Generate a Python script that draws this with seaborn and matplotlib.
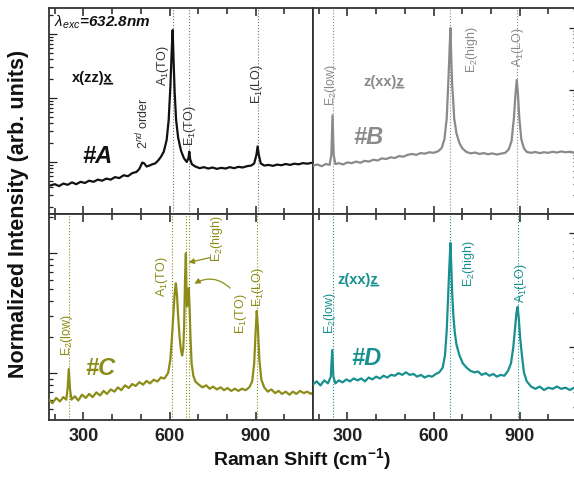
import matplotlib
matplotlib.use("Agg")
import matplotlib.pyplot as plt
import matplotlib.ticker as mticker
import numpy as np
import seaborn as sns

# spectra (Raman shift in cm-1, normalized intensity)
a_shift = [185, 200, 215, 230, 245, 260, 275, 290, 305, 320, 335, 350, 365, 380, 395, 410, 425, 440,
           455, 470, 485, 495, 505, 512, 520, 530, 540, 550, 560, 570, 580, 590, 597, 603, 608, 611,
           614, 618, 623, 630, 640, 650, 660, 666, 669, 672, 678, 690, 705, 720, 735, 750, 765, 780,
           795, 810, 825, 840, 855, 870, 885, 895, 903, 907, 911, 918, 930, 945, 960, 975, 990, 1005,
           1020, 1035, 1050, 1065, 1080, 1095]
a_int = [0.43, 0.45, 0.42, 0.46, 0.44, 0.48, 0.45, 0.49, 0.47, 0.51, 0.49, 0.53, 0.51, 0.55, 0.53, 0.58,
         0.56, 0.62, 0.60, 0.67, 0.70, 0.78, 0.98, 0.95, 0.85, 0.88, 0.92, 0.95, 1.05, 1.2, 1.45, 2.2,
         4.5, 15, 60, 115, 40, 12, 4.5, 2.4, 1.5, 1.15, 1.0, 1.15, 1.45, 1.1, 0.92, 0.85, 0.80, 0.83,
         0.79, 0.82, 0.78, 0.81, 0.79, 0.83, 0.80, 0.84, 0.82, 0.86, 0.88, 0.95, 1.3, 1.75, 1.3, 0.95,
         0.88, 0.90, 0.87, 0.91, 0.89, 0.93, 0.90, 0.94, 0.92, 0.96, 0.94, 0.97]

b_shift = [180, 195, 210, 225, 238, 244, 248, 252, 258, 270, 285, 300, 315, 330, 345, 360, 375, 390,
           405, 420, 435, 450, 465, 480, 495, 510, 525, 540, 555, 570, 585, 600, 615, 628, 638, 646,
           652, 656, 659, 662, 665, 668, 672, 680, 690, 700, 715, 730, 745, 760, 775, 790, 805, 820,
           835, 850, 862, 872, 880, 886, 890, 894, 899, 906, 915, 925, 940, 955, 970, 985, 1000, 1015,
           1030, 1045, 1060, 1075, 1090, 1100]
b_int = [0.60, 0.63, 0.59, 0.64, 0.62, 0.9, 3.9, 0.9, 0.64, 0.66, 0.63, 0.68, 0.66, 0.70, 0.67, 0.72,
         0.70, 0.75, 0.73, 0.79, 0.77, 0.82, 0.80, 0.86, 0.84, 0.90, 0.93, 0.90, 0.96, 0.94, 0.99, 0.97,
         1.02, 1.15, 1.6, 3.5, 15, 45, 100, 30, 12, 7.5, 3.5, 2.0, 1.4, 1.15, 1.0, 0.95, 0.98, 0.93,
         0.96, 0.92, 0.95, 0.91, 0.94, 0.97, 1.1, 1.5, 3.5, 9, 14.5, 9, 3.5, 1.6, 1.15, 1.0, 0.97, 1.0,
         0.96, 0.99, 0.97, 1.01, 0.98, 1.02, 0.99, 1.01, 0.98, 1.0]

c_shift = [180, 192, 205, 218, 230, 240, 245, 249, 253, 258, 270, 282, 295, 308, 320, 332, 345, 358,
           370, 382, 395, 408, 420, 432, 445, 458, 470, 482, 495, 508, 520, 532, 545, 558, 570, 582,
           595, 603, 608, 613, 618, 622, 626, 630, 635, 640, 644, 648, 651, 654, 657, 659, 661, 664,
           667, 670, 673, 677, 683, 690, 702, 715, 728, 740, 752, 765, 778, 790, 802, 815, 828, 840,
           852, 865, 878, 888, 895, 900, 904, 908, 913, 920, 930, 942, 955, 968, 980, 992, 1005, 1018,
           1030, 1042, 1055, 1068, 1080, 1092, 1100]
c_int = [0.60, 0.56, 0.62, 0.58, 0.63, 0.60, 0.75, 1.08, 0.75, 0.60, 0.64, 0.59, 0.66, 0.62, 0.67, 0.63,
         0.69, 0.65, 0.71, 0.67, 0.73, 0.70, 0.76, 0.72, 0.79, 0.75, 0.81, 0.78, 0.84, 0.80, 0.86, 0.82,
         0.88, 0.85, 0.92, 0.90, 1.0, 1.3, 1.9, 3.0, 4.6, 5.6, 4.5, 3.0, 2.0, 1.55, 1.4, 1.6, 2.5, 6,
         10, 5, 3.6, 4.2, 5.1, 3.5, 2.0, 1.2, 0.95, 0.85, 0.80, 0.76, 0.79, 0.74, 0.77, 0.73, 0.76,
         0.72, 0.75, 0.71, 0.74, 0.71, 0.74, 0.72, 0.76, 0.85, 1.2, 2.2, 3.3, 2.4, 1.3, 0.88, 0.76,
         0.70, 0.73, 0.68, 0.71, 0.67, 0.70, 0.66, 0.70, 0.67, 0.71, 0.68, 0.70, 0.67, 0.69]

d_shift = [180, 193, 206, 219, 232, 242, 247, 251, 258, 270, 283, 296, 309, 322, 335, 348, 361, 374,
           387, 400, 413, 426, 439, 452, 465, 478, 491, 504, 517, 530, 543, 556, 569, 582, 595, 608,
           620, 632, 640, 646, 651, 655, 659, 662, 665, 669, 674, 680, 690, 702, 715, 728, 742, 755,
           768, 782, 795, 808, 821, 834, 847, 860, 870, 878, 884, 889, 893, 897, 902, 908, 915, 925,
           940, 955, 970, 985, 1000, 1015, 1030, 1045, 1060, 1075, 1090, 1100]
d_int = [0.47, 0.50, 0.46, 0.51, 0.48, 0.55, 0.94, 0.55, 0.48, 0.51, 0.49, 0.52, 0.50, 0.53, 0.51, 0.53,
         0.50, 0.54, 0.52, 0.55, 0.53, 0.56, 0.54, 0.57, 0.56, 0.59, 0.57, 0.60, 0.57, 0.58, 0.55, 0.57,
         0.54, 0.56, 0.55, 0.58, 0.60, 0.66, 0.85, 1.4, 2.8, 5, 8.2, 5, 3.0, 1.9, 1.35, 1.05, 0.85,
         0.72, 0.66, 0.62, 0.60, 0.61, 0.57, 0.59, 0.56, 0.58, 0.55, 0.57, 0.56, 0.62, 0.72, 1.0, 1.45,
         2.0, 2.25, 1.8, 1.2, 0.85, 0.60, 0.50, 0.45, 0.43, 0.45, 0.42, 0.44, 0.43, 0.45, 0.43, 0.44,
         0.42, 0.44, 0.43]

# phonon mode positions (dotted guides)
a_modes = [611, 669, 908]
b_modes = [250, 659, 892]
c_modes = [250, 610, 656, 668, 906]
d_modes = [250, 659, 893]

x_ticks = [300, 600, 900]

sns.set_style("ticks")
plt.rcParams["font.family"] = ["Liberation Sans", "DejaVu Sans"]
plt.rcParams["mathtext.fontset"] = "custom"
plt.rcParams["mathtext.rm"] = "Liberation Sans"
plt.rcParams["mathtext.it"] = "Liberation Sans:italic"
plt.rcParams["mathtext.bf"] = "Liberation Sans:bold"

BLACK = "#111111"
GRAY = "#8a8a8a"
OLIVE = "#8c8c18"
TEAL = "#17908f"

fig = plt.figure(figsize=(5.74, 4.86), dpi=100)
W = 264 / 574
H = 206 / 486
axA = fig.add_axes([49 / 574, 1 - 214 / 486, W, H])
axB = fig.add_axes([313 / 574, 1 - 214 / 486, W, H])
axC = fig.add_axes([49 / 574, 1 - 420 / 486, W, H])
axD = fig.add_axes([313 / 574, 1 - 420 / 486, W, H])

panels = [
    (axA, a_shift, a_int, a_modes, BLACK, "#777777", (0.154, 254), "left"),
    (axB, b_shift, b_int, b_modes, GRAY, GRAY, (0.1, 210), "right"),
    (axC, c_shift, c_int, c_modes, OLIVE, OLIVE, (0.406, 21.2), "left"),
    (axD, d_shift, d_int, d_modes, TEAL, TEAL, (0.229, 14.7), "right"),
]

for ax, xs, ys, modes, col, mcol, ylim, side in panels:
    for m in modes:
        ax.axvline(m, ls=":", lw=0.8, color=mcol, zorder=1)
    sns.lineplot(x=xs, y=ys, ax=ax, color=col, lw=1.6, zorder=3)
    ax.set_yscale("log")
    ax.set_xlim(180, 1100)
    ax.set_ylim(*ylim)
    ax.set_xticks(x_ticks)
    ax.xaxis.set_minor_locator(mticker.MultipleLocator(100))
    ax.yaxis.set_major_locator(mticker.LogLocator(base=10))
    ax.yaxis.set_minor_locator(mticker.LogLocator(base=10, subs=np.arange(2, 10)))
    ax.yaxis.set_minor_formatter(mticker.NullFormatter())
    ax.tick_params(axis="x", which="both", direction="in", top=True, bottom=True,
                   labelsize=13, pad=6, width=1.1, colors="#222222")
    ax.tick_params(axis="x", which="major", length=6)
    ax.tick_params(axis="x", which="minor", length=4)
    ax.tick_params(axis="y", which="both", direction="in", left=(side == "left"),
                   right=(side == "right"), labelleft=False, labelright=False,
                   width=0.9, colors="#222222")
    ax.tick_params(axis="y", which="major", length=6)
    ax.tick_params(axis="y", which="minor", length=3)
    for sp in ax.spines.values():
        sp.set_visible(True)
        sp.set_linewidth(1.3)
        sp.set_color("#333333")
    ax.set_xlabel("")
    ax.set_ylabel("")
    for lab in ax.get_xticklabels():
        lab.set_fontweight("bold")

for ax in (axA, axB):
    ax.tick_params(axis="x", labelbottom=False)

rot = dict(rotation=90, ha="center", va="center", fontsize=9)


def geometry_label(ax, x, y, s, color, last_frac):
    # scattering geometry, last letter underlined
    t = ax.text(x, y, s, transform=ax.get_xaxis_transform(), ha="center", va="center",
                fontsize=10.5, fontweight="bold", color=color)
    ax.annotate("", xy=(1.0, 0.1), xycoords=t, xytext=(1.0 - last_frac, 0.1), textcoords=t,
                arrowprops=dict(arrowstyle="-", color=color, lw=1.3, shrinkA=0, shrinkB=0))


# panel A
tA = axA.get_xaxis_transform()
axA.text(196, 0.932, r"$\mathit{\lambda}_{\mathit{exc}}$=632.8nm", transform=tA, ha="left",
         va="center", fontsize=11, fontweight="bold", fontstyle="italic", color=BLACK)
geometry_label(axA, 330, 0.66, "x(zz)x", BLACK, 0.2)
axA.text(507, 0.44, r"2$^{nd}$ order", transform=tA, color="#333333", **rot)
axA.text(577, 0.718, r"A$_1$(TO)", transform=tA, color="#333333", **rot)
axA.text(671, 0.427, r"E$_1$(TO)", transform=tA, color="#333333", **rot)
axA.text(906, 0.631, r"E$_1$(LO)", transform=tA, color="#333333", **rot)
axA.text(347, 0.277, "#A", transform=tA, ha="center", va="center", fontsize=17,
         fontweight="bold", fontstyle="italic", color=BLACK)

# panel B
tB = axB.get_xaxis_transform()
axB.text(243, 0.626, r"E$_2$(low)", transform=tB, color=GRAY, **rot)
geometry_label(axB, 425, 0.641, "z(xx)z", GRAY, 0.18)
axB.text(733, 0.796, r"E$_2$(high)", transform=tB, color=GRAY, **rot)
axB.text(893, 0.81, r"A$_1$(LO)", transform=tB, color=GRAY, **rot)
axB.text(372, 0.369, "#B", transform=tB, ha="center", va="center", fontsize=17,
         fontweight="bold", fontstyle="italic", color=GRAY)

# panel C
tC = axC.get_xaxis_transform()
axC.text(243, 0.413, r"E$_2$(low)", transform=tC, color=OLIVE, **rot)
axC.text(358, 0.248, "#C", transform=tC, ha="center", va="center", fontsize=17,
         fontweight="bold", fontstyle="italic", color=OLIVE)
axC.text(574, 0.694, r"A$_1$(TO)", transform=tC, color=OLIVE, **rot)
axC.text(765, 0.883, r"E$_2$(high)", transform=tC, color=OLIVE, **rot)
axC.text(849, 0.515, r"E$_1$(TO)", transform=tC, color=OLIVE, **rot)
axC.text(908, 0.646, r"E$_1$(LO)", transform=tC, color=OLIVE, **rot)
axC.annotate("", xy=(657, 0.762), xycoords=tC, xytext=(751, 0.791), textcoords=tC,
             arrowprops=dict(arrowstyle="-|>", color=OLIVE, lw=0.9, mutation_scale=8))
axC.annotate("", xy=(678, 0.655), xycoords=tC, xytext=(818, 0.631), textcoords=tC,
             arrowprops=dict(arrowstyle="-|>", color=OLIVE, lw=0.9, mutation_scale=8,
                             connectionstyle="arc3,rad=0.4"))

# panel D
tD = axD.get_xaxis_transform()
geometry_label(axD, 337, 0.68, "z(xx)z", TEAL, 0.18)
axD.text(239, 0.519, r"E$_2$(low)", transform=tD, color=TEAL, **rot)
axD.text(722, 0.757, r"E$_2$(high)", transform=tD, color=TEAL, **rot)
axD.text(905, 0.665, r"A$_1$(LO)", transform=tD, color=TEAL, **rot)
axD.text(366, 0.30, "#D", transform=tD, ha="center", va="center", fontsize=17,
         fontweight="bold", fontstyle="italic", color=TEAL)

fig.text(0.033, 1 - 214 / 486, "Normalized Intensity (arb. units)", rotation=90, ha="center",
         va="center", fontsize=15.5, fontweight="bold", color="#111111")
fig.text(302 / 574, 1 - 459 / 486, r"Raman Shift (cm$^{\mathbf{-1}}$)", ha="center", va="center",
         fontsize=14, fontweight="bold", color="#111111")

fig.savefig("out.png", dpi=100)
